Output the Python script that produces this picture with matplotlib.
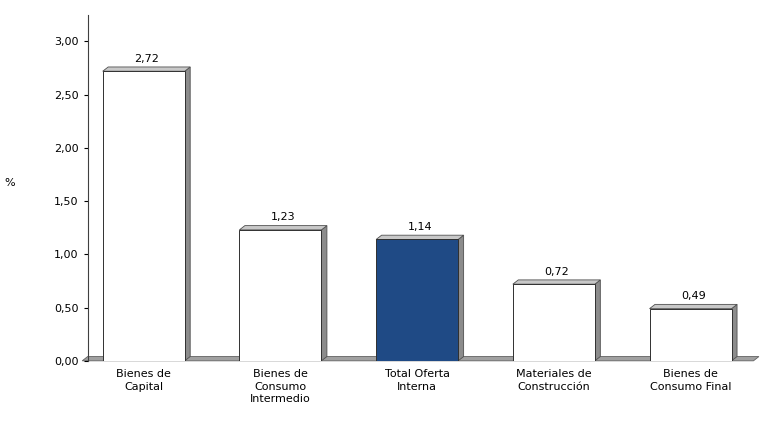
import numpy as np
import matplotlib.pyplot as plt

categories = ['Bienes de\nCapital', 'Bienes de\nConsumo\nIntermedio', 'Total Oferta\nInterna',
              'Materiales de\nConstrucción', 'Bienes de\nConsumo Final']
values = [2.72, 1.23, 1.14, 0.72, 0.49]
colors = ['white', 'white', '#1f4a85', 'white', 'white']

fig = plt.figure(figsize=(7.69, 4.23), dpi=100)
ax = fig.add_axes([0.114, 0.147, 0.88, 0.818])

w = 0.6
dx, dy = 0.04, 0.04
x = np.arange(len(values))

# suelo
ax.fill([-0.45, -0.45 + dx, 4.5, 4.5 - dx], [0, dy, dy, 0], color='#a0a0a0', ec='#606060', lw=0.6, zorder=1, clip_on=False)

for xi, v, c in zip(x, values, colors):
    l, r = xi - w / 2, xi + w / 2
    ax.fill([r, r + dx, r + dx, r], [0, dy, v + dy, v], color='#8c8c8c', ec='#505050', lw=0.6, zorder=2)
    ax.fill([l, l + dx, r + dx, r], [v, v + dy, v + dy, v], color='#c8c8c8', ec='#505050', lw=0.6, zorder=2)
    ax.bar(xi, v, w, color=c, edgecolor='#303030', lw=0.7, zorder=3)
    ax.text(xi + dx / 2, v + dy + 0.03, f'{v:.2f}'.replace('.', ','), ha='center', va='bottom', fontsize=8)

ax.set_xlim(-0.41, 4.54)
ax.set_ylim(0, 3.25)
ax.set_yticks(np.arange(0, 3.01, 0.5))
ax.set_yticklabels([f'{t:.2f}'.replace('.', ',') for t in np.arange(0, 3.01, 0.5)], fontsize=8)
ax.set_xticks(x)
ax.set_xticklabels(categories, fontsize=8, linespacing=1.3)
ax.tick_params(axis='x', length=0, pad=6)
ax.tick_params(axis='y', length=3)
for s in ['top', 'right', 'bottom']:
    ax.spines[s].set_visible(False)
ax.spines['left'].set_color('#404040')
ax.set_ylabel('%', rotation=0, fontsize=8, labelpad=32)

fig.savefig('out.png', dpi=100)
